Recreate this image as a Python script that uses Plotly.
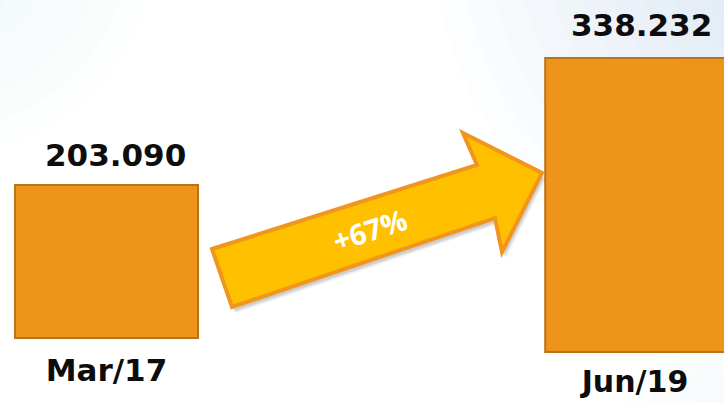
import plotly.graph_objects as go

# ---- data ----
categories = ["Mar/17", "Jun/19"]
values = [203.090, 338.232]
value_labels = ["203.090", "338.232"]
growth_label = "+67%"

W, H = 724, 403
BAR_FILL = "#EF941A"
BAR_LINE = "#B8731C"

def px(x):
    return x / W

def py(y):
    return 1 - y / H

fig = go.Figure()

# Bar geometry (pixels)
bar_px = [
    dict(left=15, right=198, base=338, top=185),
    dict(left=545, right=725, base=352, top=58),
]

axes = [("x", "y"), ("x2", "y2")]
for i, (cat, val) in enumerate(zip(categories, values)):
    xa, ya = axes[i]
    fig.add_trace(go.Bar(
        x=[cat], y=[val], width=[1.0],
        marker=dict(color=BAR_FILL, line=dict(color=BAR_LINE, width=2)),
        xaxis=xa, yaxis=ya, showlegend=False, hoverinfo="skip",
    ))

layout_axes = {}
standoffs = [7, 5]
tick_sizes = [31, 30]
for i, b in enumerate(bar_px):
    unit_x = b["right"] - b["left"]
    center = (b["left"] + b["right"]) / 2
    d0 = max(0.0, b["left"] - 0.06 * unit_x)
    d1 = min(W, b["right"] + 0.06 * unit_x)
    r0 = (d0 - center) / unit_x
    r1 = (d1 - center) / unit_x
    s = (b["base"] - b["top"]) / values[i]
    pad = 4
    yr0 = -pad / s
    yr1 = b["base"] / s
    sfx = "" if i == 0 else str(i + 1)
    layout_axes["xaxis" + sfx] = dict(
        domain=[px(d0), px(d1)], range=[r0, r1], type="category",
        anchor="y" + sfx, showgrid=False, zeroline=False, showline=False,
        ticks="", ticklabelstandoff=standoffs[i], automargin=False,
        tickfont=dict(family="DejaVu Sans", size=tick_sizes[i], color="#0d0d0d", weight="bold"),
        fixedrange=True,
    )
    layout_axes["yaxis" + sfx] = dict(
        domain=[py(b["base"] + pad), 1], range=[yr0, yr1], automargin=False,
        anchor="x" + sfx, visible=False, fixedrange=True,
    )

fig.update_layout(**layout_axes)

xshifts = [9, 6]
yshifts = [10, 13]
for i, (cat, lab) in enumerate(zip(categories, value_labels)):
    sfx = "" if i == 0 else str(i + 1)
    fig.add_annotation(
        x=cat, y=values[i], xref="x" + sfx, yref="y" + sfx,
        text=lab, showarrow=False, yanchor="bottom", yshift=yshifts[i], xshift=xshifts[i],
        font=dict(family="DejaVu Sans", size=31, color="#0d0d0d", weight="bold"),
    )

# ---- background tint (soft, layered) ----
shapes = []
for k in range(12):
    r = 60 + k * 28
    cx, cy = 800, -70
    shapes.append(dict(type="circle", xref="paper", yref="paper",
                       x0=px(cx - r), x1=px(cx + r), y0=py(cy + r), y1=py(cy - r),
                       fillcolor="rgba(185,212,236,0.045)", line=dict(width=0), layer="below"))
for k in range(8):
    r = 40 + k * 25
    cx, cy = -60, -60
    shapes.append(dict(type="circle", xref="paper", yref="paper",
                       x0=px(cx - r), x1=px(cx + r), y0=py(cy + r), y1=py(cy - r),
                       fillcolor="rgba(195,212,230,0.03)", line=dict(width=0), layer="below"))
for k in range(6):
    r = 30 + k * 22
    cx, cy = 760, 440
    shapes.append(dict(type="circle", xref="paper", yref="paper",
                       x0=px(cx - r), x1=px(cx + r), y0=py(cy + r), y1=py(cy - r),
                       fillcolor="rgba(195,215,235,0.035)", line=dict(width=0), layer="below"))

# ---- arrow ----
arrow_pts = [(212, 249), (477, 165), (463, 133), (542, 173), (502, 252), (495, 218), (232, 307)]

def path_from(pts, dx=0, dy=0):
    return "M " + " L ".join(f"{px(x + dx):.5f},{py(y + dy):.5f}" for x, y in pts) + " Z"

for dx, dy, a in [(4, 6, 0.05), (3, 5, 0.07), (2, 4, 0.08)]:
    shapes.append(dict(type="path", xref="paper", yref="paper", path=path_from(arrow_pts, dx, dy),
                       fillcolor=f"rgba(0,0,0,{a})", line=dict(width=0), layer="above"))
shapes.append(dict(type="path", xref="paper", yref="paper", path=path_from(arrow_pts),
                   fillcolor="#FFC000", line=dict(color="#F0961E", width=4), layer="above"))
fig.update_layout(shapes=shapes)

fig.add_annotation(
    x=px(370), y=py(230), xref="paper", yref="paper", text=growth_label,
    showarrow=False, textangle=-18,
    font=dict(family="Open Sans", size=29, color="white", weight="bold"),
)

fig.update_layout(
    width=W, height=H, margin=dict(l=0, r=0, t=0, b=0, autoexpand=False),
    paper_bgcolor="white", plot_bgcolor="rgba(0,0,0,0)",
    bargap=0,
)

fig.write_html("out.html")
